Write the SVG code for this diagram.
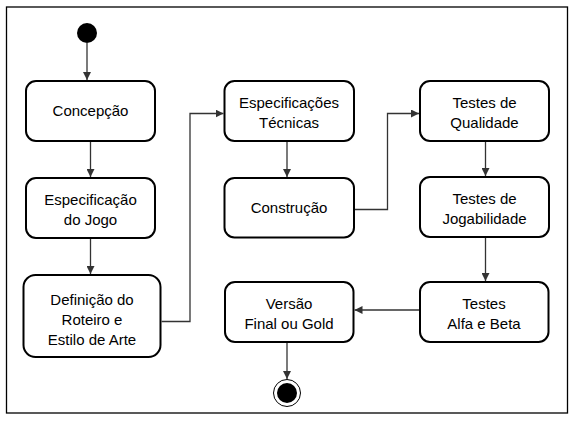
<svg xmlns="http://www.w3.org/2000/svg" width="577" height="423" viewBox="0 0 577 423">
<style>
.frame{fill:#fff;stroke:#000;stroke-width:1.3}
.box{fill:#fff;stroke:#000;stroke-width:2}
.lbl{font-family:"Comic Sans MS","Liberation Sans",sans-serif;font-size:15px;fill:#000;text-anchor:middle}
.ln{fill:none;stroke:#333;stroke-width:1.3}
</style>
<defs>
<marker id="ah" viewBox="0 0 10 10" refX="10" refY="5" markerWidth="8" markerHeight="8" markerUnits="userSpaceOnUse" orient="auto">
<path d="M0,0 L10,5 L0,10 Z" fill="#333"/>
</marker>
</defs>
<rect class="frame" x="6.5" y="7" width="561" height="406"/>
<g id="start"><circle cx="87" cy="33" r="10" fill="#000"/></g>
<g id="end"><circle cx="287" cy="393" r="13.5" fill="#fff" stroke="#000" stroke-width="1"/><circle cx="287" cy="393" r="10" fill="#000"/></g>
<g id="concepcao"><rect class="box" x="26" y="81" width="129" height="60" rx="10"/><text class="lbl" x="90.5" y="116">Concepção</text></g>
<g id="especificacao"><rect class="box" x="26" y="178" width="129" height="60" rx="10"/><text class="lbl" x="90.5" y="205">Especificação</text><text class="lbl" x="90.5" y="225">do Jogo</text></g>
<g id="definicao"><rect class="box" x="23.5" y="275" width="137" height="82" rx="12"/><text class="lbl" x="92" y="305">Definição do</text><text class="lbl" x="92" y="325">Roteiro e</text><text class="lbl" x="92" y="345">Estilo de Arte</text></g>
<g id="tecnicas"><rect class="box" x="224.5" y="81" width="129.5" height="60" rx="10"/><text class="lbl" x="289" y="108">Especificações</text><text class="lbl" x="289" y="128">Técnicas</text></g>
<g id="construcao"><rect class="box" x="224.5" y="178" width="129.5" height="59.5" rx="10"/><text class="lbl" x="289" y="213">Construção</text></g>
<g id="qualidade"><rect class="box" x="420" y="81" width="129" height="60" rx="10"/><text class="lbl" x="484.5" y="108">Testes de</text><text class="lbl" x="484.5" y="128">Qualidade</text></g>
<g id="jogabilidade"><rect class="box" x="420" y="177" width="129" height="60" rx="10"/><text class="lbl" x="484.5" y="204">Testes de</text><text class="lbl" x="484.5" y="224">Jogabilidade</text></g>
<g id="alfabeta"><rect class="box" x="420" y="282" width="128.5" height="60" rx="10"/><text class="lbl" x="484" y="309">Testes</text><text class="lbl" x="484" y="329">Alfa e Beta</text></g>
<g id="versao"><rect class="box" x="225" y="282" width="128.5" height="60" rx="10"/><text class="lbl" x="289" y="309">Versão</text><text class="lbl" x="289" y="329">Final ou Gold</text></g>
<g id="connectors">
<path class="ln" d="M87,43 V80" marker-end="url(#ah)"/>
<path class="ln" d="M90.5,142 V177" marker-end="url(#ah)"/>
<path class="ln" d="M90.5,239 V274" marker-end="url(#ah)"/>
<path class="ln" d="M161.5,321.5 H190 V113.5 H223.5" marker-end="url(#ah)"/>
<path class="ln" d="M287,142 V177" marker-end="url(#ah)"/>
<path class="ln" d="M355,209.5 H387.5 V113.5 H419" marker-end="url(#ah)"/>
<path class="ln" d="M485.5,142 V176" marker-end="url(#ah)"/>
<path class="ln" d="M485.5,238 V281" marker-end="url(#ah)"/>
<path class="ln" d="M419,310 H354.5" marker-end="url(#ah)"/>
<path class="ln" d="M287,343 V379" marker-end="url(#ah)"/>
</g>
</svg>
